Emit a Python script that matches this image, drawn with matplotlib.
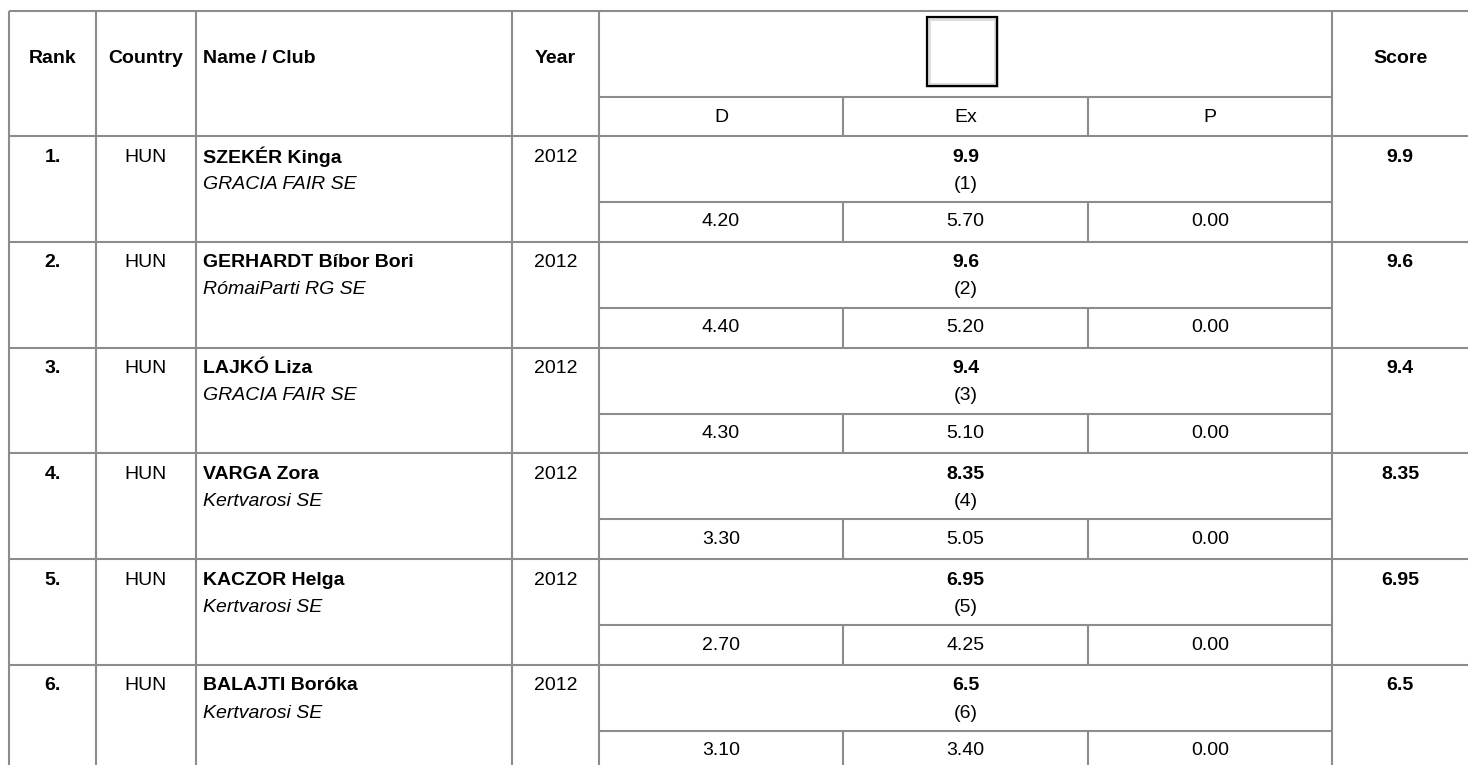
import matplotlib.pyplot as plt
from matplotlib.patches import Rectangle

plt.rcParams['font.family'] = ['Liberation Sans', 'DejaVu Sans']

# data
ranks = ['1.', '2.', '3.', '4.', '5.', '6.']
countries = ['HUN', 'HUN', 'HUN', 'HUN', 'HUN', 'HUN']
names = ['SZEKÉR Kinga', 'GERHARDT Bíbor Bori', 'LAJKÓ Liza',
         'VARGA Zora', 'KACZOR Helga', 'BALAJTI Boróka']
clubs = ['GRACIA FAIR SE', 'RómaiParti RG SE', 'GRACIA FAIR SE',
         'Kertvarosi SE', 'Kertvarosi SE', 'Kertvarosi SE']
years = [2012, 2012, 2012, 2012, 2012, 2012]
totals = ['9.9', '9.6', '9.4', '8.35', '6.95', '6.5']
places = [1, 2, 3, 4, 5, 6]
d_scores = [4.20, 4.40, 4.30, 3.30, 2.70, 3.10]
ex_scores = [5.70, 5.20, 5.10, 5.05, 4.25, 3.40]
p_scores = [0.00, 0.00, 0.00, 0.00, 0.00, 0.00]
headers = ['Rank', 'Country', 'Name / Club', 'Year']
sub_headers = ['D', 'Ex', 'P']

W, H = 1468, 765
fig = plt.figure(figsize=(W / 100, H / 100), dpi=100)
ax = fig.add_axes([0, 0, 1, 1])
ax.set_xlim(0, W)
ax.set_ylim(H, 0)
ax.axis('off')

# layout (pixels)
cols = [9, 96, 196, 512, 599, 843, 1088, 1332, 1468]
top, sub_y, head_bot = 11, 97, 136
row_h = 105.8
sub_off = 66
lc = '#8c8c8c'
lw = 1.5
fs = 14

def hline(y, x0, x1):
    ax.plot([x0, x1], [y, y], color=lc, lw=lw, solid_capstyle='butt')

def vline(x, y0, y1):
    ax.plot([x, x], [y0, y1], color=lc, lw=lw, solid_capstyle='butt')

# grid
hline(top, cols[0], W)
hline(sub_y, cols[4], cols[7])
hline(head_bot, cols[0], W)
for x in [cols[0], cols[1], cols[2], cols[3], cols[4], cols[7]]:
    vline(x, top, H)
for x in [cols[5], cols[6]]:
    vline(x, sub_y, head_bot)

n = len(ranks)
for i in range(n):
    y0 = head_bot + i * row_h
    hline(y0 + row_h, cols[0], W)
    hline(y0 + sub_off, cols[4], cols[7])
    for x in [cols[5], cols[6]]:
        vline(x, y0 + sub_off, y0 + row_h)

# header text
hy = 58
for j, h in enumerate(headers):
    if h == 'Name / Club':
        ax.text(cols[2] + 7, hy, h, ha='left', va='center', fontsize=fs, fontweight='bold')
    else:
        ax.text((cols[j] + cols[j + 1]) / 2, hy, h, ha='center', va='center',
                fontsize=fs, fontweight='bold')
ax.text((cols[7] + cols[8]) / 2, hy, 'Score', ha='center', va='center',
        fontsize=fs, fontweight='bold')
for j, h in enumerate(sub_headers):
    ax.text((cols[4 + j] + cols[5 + j]) / 2, 117, h, ha='center', va='center', fontsize=fs)

# checkbox in header
ax.add_patch(Rectangle((928, 18), 68, 67, fill=False, ec='#dddddd', lw=3.5))
ax.add_patch(Rectangle((927, 17), 70, 69, fill=False, ec='black', lw=1.6))

# rows
for i in range(n):
    y0 = head_bot + i * row_h
    ty = y0 + 21
    ax.text((cols[0] + cols[1]) / 2, ty, ranks[i], ha='center', va='center',
            fontsize=fs, fontweight='bold')
    ax.text((cols[1] + cols[2]) / 2, ty, countries[i], ha='center', va='center', fontsize=fs)
    ax.text(cols[2] + 7, ty, names[i], ha='left', va='center', fontsize=fs, fontweight='bold')
    ax.text(cols[2] + 7, ty + 27, clubs[i], ha='left', va='center', fontsize=fs, style='italic')
    ax.text((cols[3] + cols[4]) / 2, ty, str(years[i]), ha='center', va='center', fontsize=fs)
    ax.text((cols[4] + cols[7]) / 2, ty, totals[i], ha='center', va='center',
            fontsize=fs, fontweight='bold')
    ax.text((cols[4] + cols[7]) / 2, ty + 27, '(%d)' % places[i], ha='center', va='center', fontsize=fs)
    ax.text((cols[7] + cols[8]) / 2, ty, totals[i], ha='center', va='center',
            fontsize=fs, fontweight='bold')
    vy = y0 + sub_off + (row_h - sub_off) / 2
    for j, v in enumerate([d_scores[i], ex_scores[i], p_scores[i]]):
        ax.text((cols[4 + j] + cols[5 + j]) / 2, vy, '%.2f' % v, ha='center', va='center', fontsize=fs)

fig.savefig('out.png', dpi=100)
